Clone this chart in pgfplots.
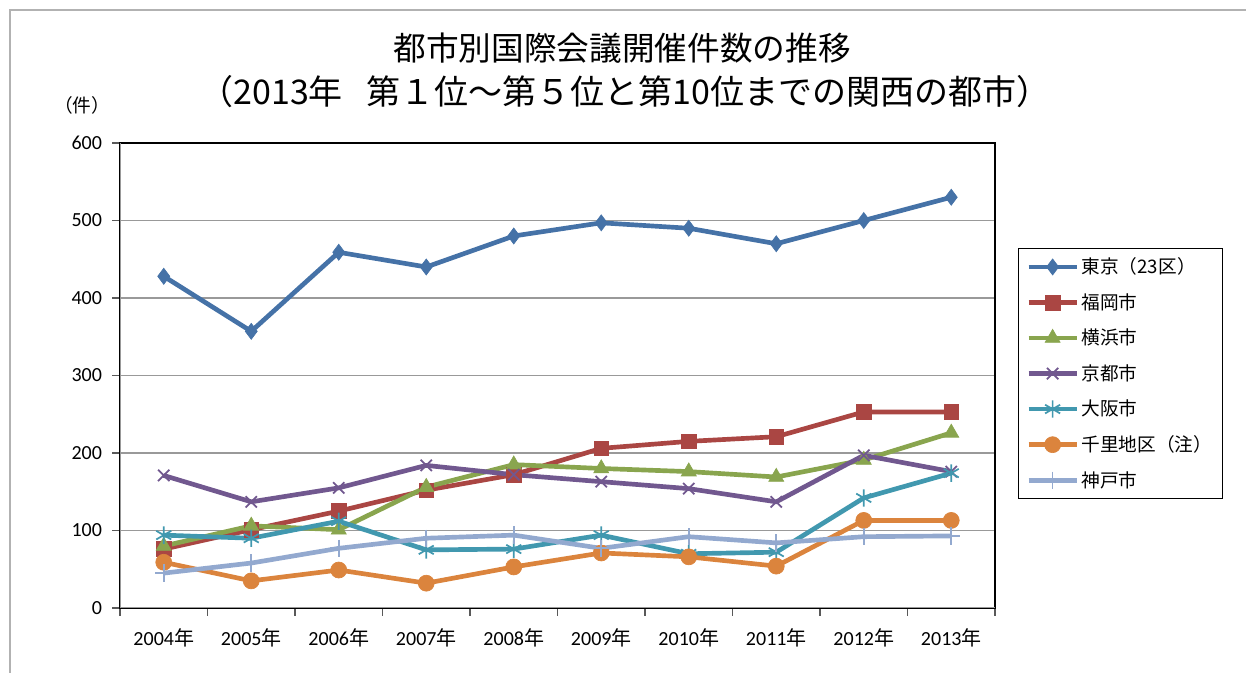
\documentclass[border=0pt]{standalone}
\usepackage{fontspec}
\setmainfont{Carlito}
\newfontfamily\cjk{Noto Sans CJK JP}
\usepackage{pgfplots}
\pgfplotsset{compat=1.18}
\definecolor{cTok}{HTML}{4572A7}
\definecolor{cFuk}{HTML}{AA4643}
\definecolor{cYok}{HTML}{89A54E}
\definecolor{cKyo}{HTML}{71588F}
\definecolor{cOsa}{HTML}{4198AF}
\definecolor{cSen}{HTML}{DB843D}
\definecolor{cKob}{HTML}{93A9CF}
\begin{document}
\begin{tikzpicture}
\useasboundingbox (0,0) rectangle (934.5pt,504.75pt);
\draw[gray!60, line width=1pt] (7.5pt,0) -- (7.5pt,497.25pt) -- (934.5pt,497.25pt);
\node[font=\cjk\fontsize{24.5}{28}\selectfont] at (466.5pt,468.75pt) {都市別国際会議開催件数の推移};
\node[font=\cjk\fontsize{25.5}{28}\selectfont] at (468.75pt,435.75pt) {（2013年\hspace{0.7em}第１位～第５位と第10位までの関西の都市）};
\node[font=\cjk\fontsize{14}{16}\selectfont] at (61.5pt,426pt) {（件）};
\begin{axis}[
  at={(90pt,48.75pt)}, anchor=south west,
  width=656.25pt, height=348.75pt, scale only axis,
  xmin=-0.5, xmax=9.5, ymin=0, ymax=600,
  xtick={0,...,9},
  xticklabels={2004\cjk{年},2005\cjk{年},2006\cjk{年},2007\cjk{年},2008\cjk{年},2009\cjk{年},2010\cjk{年},2011\cjk{年},2012\cjk{年},2013\cjk{年}},
  minor xtick={-0.5,0.5,...,9.5},
  major x tick style={draw=none},
  ytick={0,100,...,600},
  tick align=outside, tick pos=left,
  major tick length=6pt, minor tick length=6pt,
  tick style={gray!70!black, line width=0.8pt},
  ymajorgrids, grid style={gray!80, line width=1pt},
  axis line style={black, line width=0.8pt},
  /pgf/number format/assume math mode=true,
  ticklabel style={font=\fontsize{15}{18}\selectfont},
  xticklabel style={yshift=-6pt},
  yticklabel style={xshift=-4pt},
  legend style={at={(1.026,0.774)}, anchor=north west, draw=black, line width=0.8pt,
    font=\cjk\fontsize{14}{16}\selectfont, row sep=9.3pt, inner xsep=6pt, inner ysep=5pt},
  legend cell align=left,
  legend image code/.code={\draw[mark repeat=2,mark phase=2] plot coordinates {(0pt,0pt)(18pt,0pt)(36pt,0pt)};},
  every axis plot/.append style={line width=3.5pt},
]
\draw[gray!80, line width=1.2pt] (rel axis cs:0,0) -- (rel axis cs:0,1);
\draw[gray!80, line width=1.2pt] (rel axis cs:0,0) -- (rel axis cs:1,0);
\addplot[cTok, mark=diamond*, mark size=6pt, mark options={solid, line width=0.5pt, fill=cTok}] coordinates {(0,428)(1,357)(2,459)(3,440)(4,480)(5,497)(6,490)(7,470)(8,500)(9,530)};
\addlegendentry{東京（23区）}
\addplot[cFuk, mark=square*, mark size=5.5pt, mark options={solid, line width=0.5pt, fill=cFuk}] coordinates {(0,76)(1,101)(2,125)(3,152)(4,172)(5,206)(6,215)(7,221)(8,253)(9,253)};
\addlegendentry{福岡市}
\addplot[cYok, mark=triangle*, mark size=6.5pt, mark options={solid, line width=0.5pt, fill=cYok}] coordinates {(0,80)(1,106)(2,101)(3,156)(4,185)(5,180)(6,176)(7,169)(8,191)(9,226)};
\addlegendentry{横浜市}
\addplot[cKyo, mark=x, mark size=6pt, mark options={solid, line width=1.3pt}] coordinates {(0,171)(1,137)(2,155)(3,184)(4,172)(5,163)(6,154)(7,137)(8,197)(9,176)};
\addlegendentry{京都市}
\addplot[cOsa, mark=asterisk, mark size=6.5pt, mark options={solid, line width=1.3pt}] coordinates {(0,94)(1,90)(2,112)(3,75)(4,76)(5,94)(6,70)(7,72)(8,142)(9,174)};
\addlegendentry{大阪市}
\addplot[cSen, mark=*, mark size=6pt, mark options={solid, line width=0.5pt, fill=cSen}] coordinates {(0,59)(1,35)(2,49)(3,32)(4,53)(5,71)(6,66)(7,54)(8,113)(9,113)};
\addlegendentry{千里地区（注）}
\addplot[cKob, mark=+, mark size=6.5pt, mark options={solid, line width=1.3pt}] coordinates {(0,45)(1,58)(2,77)(3,90)(4,94)(5,77)(6,92)(7,84)(8,92)(9,93)};
\addlegendentry{神戸市}
\end{axis}
\end{tikzpicture}
\end{document}
